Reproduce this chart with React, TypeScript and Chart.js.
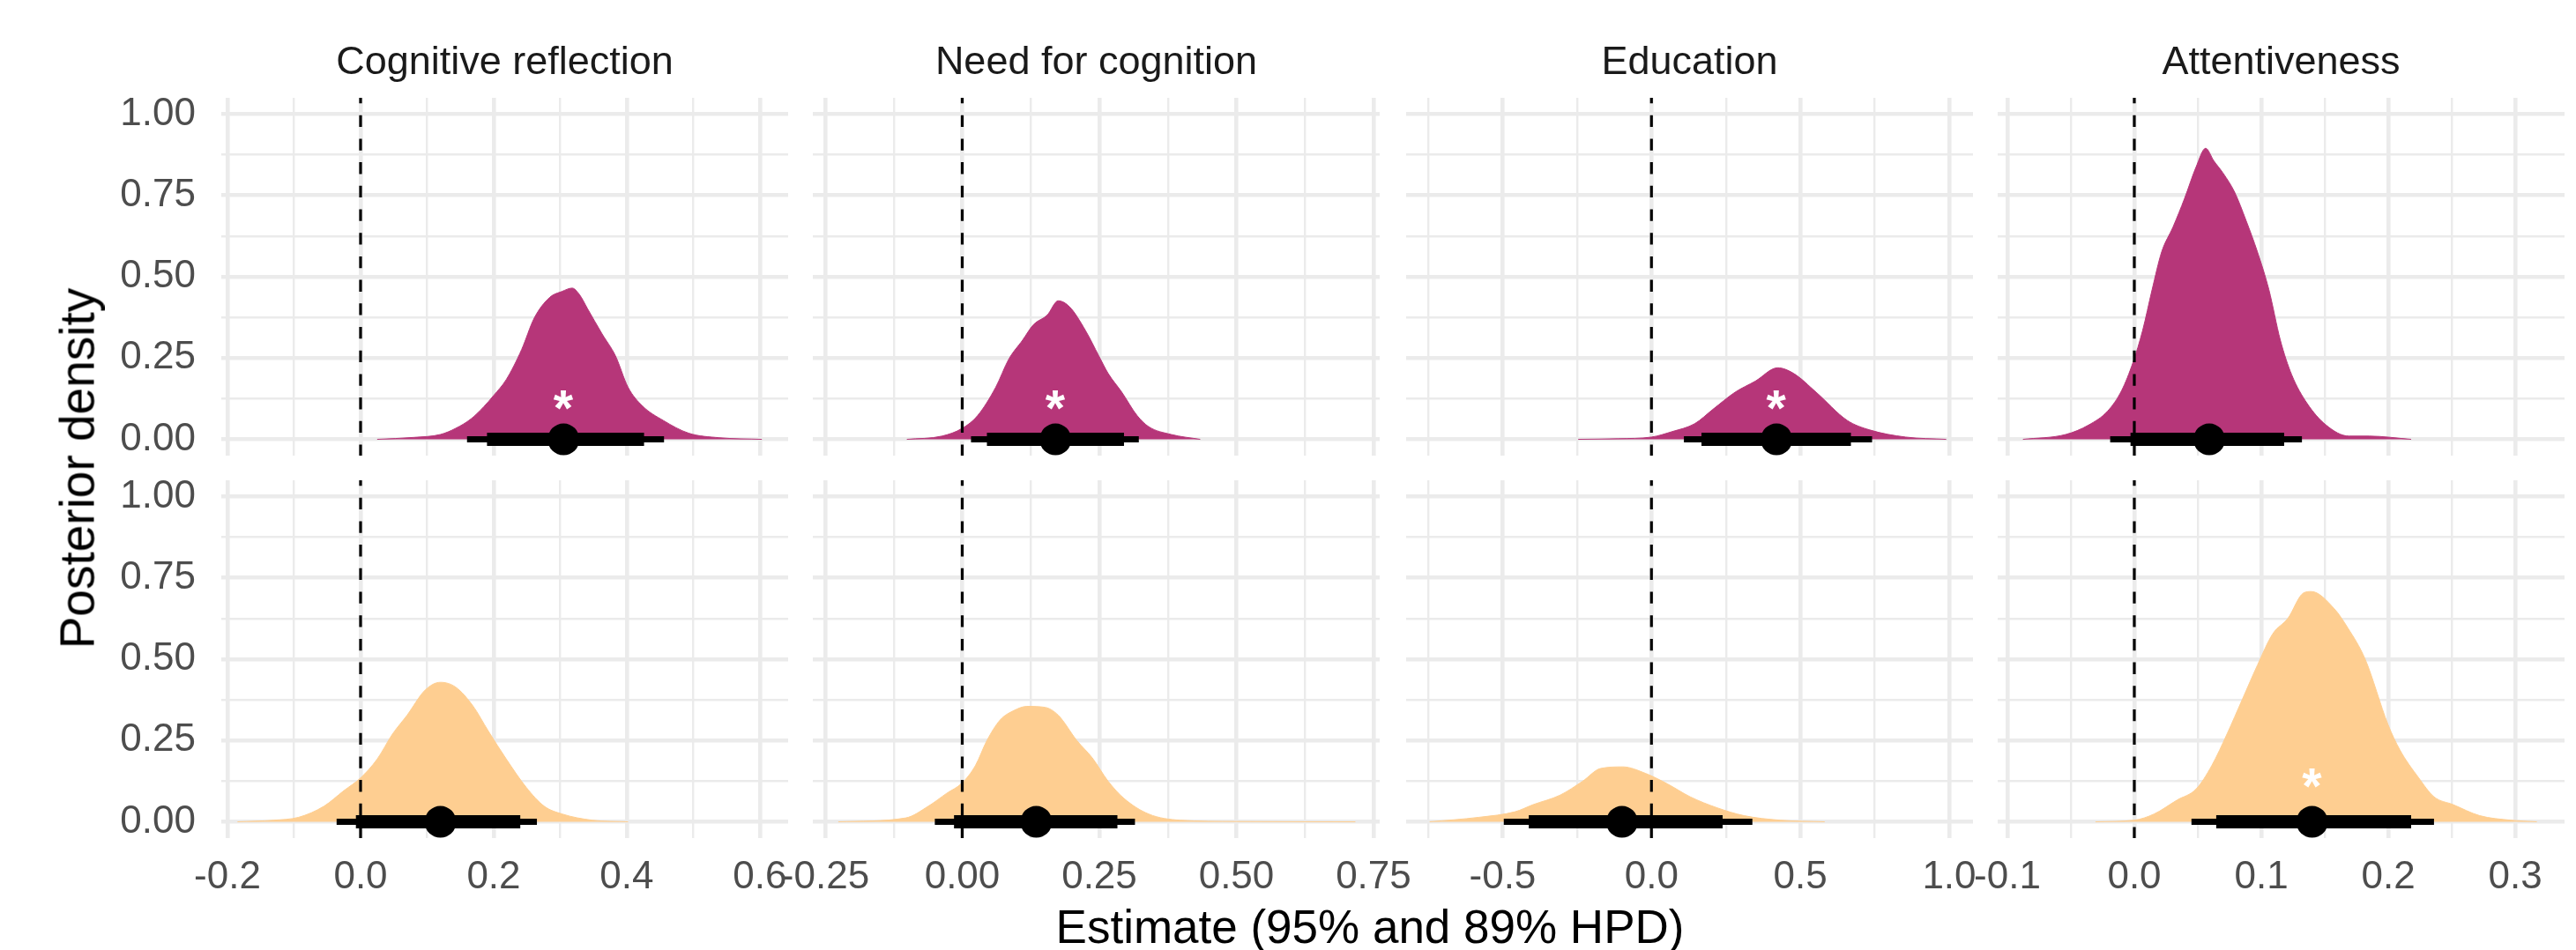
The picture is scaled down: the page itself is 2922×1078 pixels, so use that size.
import React, { useEffect, useRef } from 'react';
import { Chart, registerables } from 'chart.js';

Chart.register(...registerables);

// ---------- data ----------
const facetNames = ['Cognitive reflection', 'Need for cognition', 'Education', 'Attentiveness'];

// posterior density outlines [estimate, density]
const cogReflTop = [[0.025, 0], [0.08, 0.006], [0.12, 0.015], [0.143, 0.034], [0.166, 0.063], [0.185, 0.1], [0.2, 0.135], [0.219, 0.184], [0.242, 0.276], [0.261, 0.373], [0.284, 0.436], [0.303, 0.455], [0.318, 0.465], [0.329, 0.445], [0.341, 0.402], [0.363, 0.324], [0.383, 0.257], [0.402, 0.16], [0.424, 0.102], [0.455, 0.058], [0.493, 0.019], [0.539, 0.005], [0.603, 0]];
const needCogTop = [[-0.101, 0], [-0.037, 0.01], [0.0, 0.034], [0.028, 0.073], [0.061, 0.16], [0.085, 0.247], [0.11, 0.305], [0.13, 0.353], [0.155, 0.382], [0.175, 0.426], [0.196, 0.407], [0.225, 0.334], [0.249, 0.257], [0.266, 0.203], [0.291, 0.145], [0.319, 0.073], [0.34, 0.039], [0.381, 0.015], [0.434, 0]];
const educTop = [[-0.246, 0], [-0.111, 0.002], [0.0, 0.007], [0.07, 0.024], [0.145, 0.048], [0.206, 0.092], [0.281, 0.145], [0.349, 0.179], [0.424, 0.22], [0.477, 0.203], [0.553, 0.145], [0.658, 0.058], [0.733, 0.029], [0.854, 0.007], [0.99, 0]];
const attentTop = [[-0.0877, 0], [-0.054, 0.015], [-0.036, 0.044], [-0.021, 0.087], [-0.01, 0.15], [-0.001, 0.237], [0.0065, 0.334], [0.014, 0.46], [0.0215, 0.576], [0.0305, 0.653], [0.0396, 0.741], [0.0486, 0.837], [0.0562, 0.895], [0.0625, 0.857], [0.07, 0.818], [0.079, 0.76], [0.088, 0.673], [0.097, 0.576], [0.106, 0.46], [0.115, 0.305], [0.124, 0.198], [0.136, 0.111], [0.151, 0.044], [0.169, 0.01], [0.185, 0.01], [0.218, 0]];

const cogReflBottom = [[-0.185, 0], [-0.13, 0.005], [-0.093, 0.014], [-0.055, 0.048], [-0.025, 0.096], [0.0, 0.135], [0.025, 0.193], [0.048, 0.27], [0.07, 0.328], [0.097, 0.405], [0.12, 0.429], [0.143, 0.414], [0.169, 0.356], [0.192, 0.279], [0.219, 0.193], [0.249, 0.106], [0.276, 0.048], [0.303, 0.024], [0.348, 0.005], [0.402, 0]];
const needCogBottom = [[-0.226, 0], [-0.103, 0.012], [-0.062, 0.048], [-0.029, 0.087], [0.0, 0.12], [0.024, 0.173], [0.045, 0.25], [0.069, 0.313], [0.094, 0.342], [0.118, 0.355], [0.151, 0.352], [0.175, 0.328], [0.209, 0.25], [0.237, 0.197], [0.266, 0.125], [0.295, 0.072], [0.34, 0.024], [0.397, 0.005], [0.5, 0.001], [0.717, 0]];
const educBottom = [[-0.745, 0], [-0.579, 0.014], [-0.458, 0.031], [-0.397, 0.053], [-0.307, 0.082], [-0.231, 0.125], [-0.171, 0.164], [-0.096, 0.169], [-0.02, 0.149], [0.055, 0.116], [0.13, 0.077], [0.221, 0.043], [0.311, 0.019], [0.432, 0.005], [0.582, 0]];
const attentBottom = [[-0.0306, 0], [0.0, 0.005], [0.0155, 0.024], [0.0337, 0.067], [0.0487, 0.101], [0.061, 0.173], [0.073, 0.27], [0.085, 0.376], [0.097, 0.482], [0.109, 0.578], [0.121, 0.626], [0.133, 0.703], [0.1394, 0.708], [0.1575, 0.655], [0.168, 0.597], [0.1817, 0.501], [0.1998, 0.299], [0.209, 0.222], [0.224, 0.135], [0.236, 0.077], [0.251, 0.053], [0.272, 0.019], [0.2965, 0.005], [0.317, 0]];

// point estimates and HPD intervals (per facet)
const topEstimate = [0.305, 0.170, 0.420, 0.059];
const topLo95 = [0.160, 0.016, 0.109, -0.019];
const topHi95 = [0.456, 0.322, 0.741, 0.132];
const topLo89 = [0.190, 0.045, 0.168, -0.003];
const topHi89 = [0.426, 0.295, 0.670, 0.118];
const topStar = [true, true, true, false];

const bottomEstimate = [0.120, 0.135, -0.099, 0.140];
const bottomLo95 = [-0.036, -0.050, -0.496, 0.045];
const bottomHi95 = [0.265, 0.315, 0.339, 0.236];
const bottomLo89 = [-0.007, -0.015, -0.412, 0.0645];
const bottomHi89 = [0.240, 0.283, 0.239, 0.218];
const bottomStar = [false, false, false, true];

const starHeight = [0.12, 0.134];

// axes
const xMin = [-0.2093, -0.2725, -0.824, -0.1076];
const xMax = [0.6425, 0.7613, 1.08, 0.3388];
const xMajorTicks = [[-0.2, 0, 0.2, 0.4, 0.6], [-0.25, 0, 0.25, 0.5, 0.75], [-0.5, 0, 0.5, 1.0], [-0.1, 0, 0.1, 0.2, 0.3]];
const xMinorTicks = [[-0.1, 0.1, 0.3, 0.5], [-0.125, 0.125, 0.375, 0.625], [-0.75, -0.25, 0.25, 0.75], [-0.05, 0.05, 0.15, 0.25]];
const xDecimals = [1, 2, 1, 1];
const yMajorTicks = [0, 0.25, 0.5, 0.75, 1.0];
const yMinorTicks = [0.125, 0.375, 0.625, 0.875];
const yMin = -0.05;
const yMax = 1.05;

const rowColors = ['#B63679', '#FECE91'];

// ---------- layout ----------
const panelLeft = [251, 922, 1595, 2266];
const rowTop = [111, 545];
const panelW = 643;
const panelH = 406;
const padL = 100, padR = 100, padT = 80, padB = 80;
const yAxisW = 170;
const xAxisH = 90;
const FONT = "'Liberation Sans', Arial, Helvetica, sans-serif";
const GRID = '#EBEBEB';

const near = (a: number, list: number[]) => list.some((v) => Math.abs(v - a) < 1e-9);

const starPlugin = {
  id: 'starMark',
  afterDatasetsDraw(chart: any, _args: any, opts: any) {
    if (!opts || !opts.show) return;
    const { ctx, scales } = chart;
    const px = scales.x.getPixelForValue(opts.x);
    const py = scales.y.getPixelForValue(opts.y);
    ctx.save();
    ctx.font = `bold 60px ${FONT}`;
    const m = ctx.measureText('*');
    const h = m.actualBoundingBoxAscent + m.actualBoundingBoxDescent;
    const size = h > 0 ? (60 * 22) / h : 60;
    ctx.font = `bold ${size}px ${FONT}`;
    const m2 = ctx.measureText('*');
    ctx.textAlign = 'left';
    ctx.textBaseline = 'alphabetic';
    ctx.fillStyle = '#FFFFFF';
    const bx = px - (m2.actualBoundingBoxRight - m2.actualBoundingBoxLeft) / 2;
    const by = py + (m2.actualBoundingBoxAscent - m2.actualBoundingBoxDescent) / 2;
    ctx.fillText('*', bx, by);
    ctx.restore();
  },
};

type PanelSpec = { r: number; c: number };
const panels: PanelSpec[] = [];
for (let r = 0; r < 2; r++) for (let c = 0; c < 4; c++) panels.push({ r, c });

function geom(r: number, c: number) {
  const yw = c === 0 ? yAxisW : 0;
  const xh = r === 1 ? xAxisH : 0;
  return {
    left: panelLeft[c] - padL - yw,
    top: rowTop[r] - padT,
    width: padL + yw + panelW + padR,
    height: padT + panelH + xh + padB,
    yw,
    xh,
  };
}

export default function App() {
  const refs = useRef<(HTMLCanvasElement | null)[]>([]);

  useEffect(() => {
    Chart.defaults.font.family = FONT;
    const charts: Chart[] = [];
    panels.forEach(({ r, c }, i) => {
      const canvas = refs.current[i];
      if (!canvas) return;
      const g = geom(r, c);
      const dens = r === 0 ? [cogReflTop, needCogTop, educTop, attentTop][c] : [cogReflBottom, needCogBottom, educBottom, attentBottom][c];
      const est = r === 0 ? topEstimate[c] : bottomEstimate[c];
      const lo95 = r === 0 ? topLo95[c] : bottomLo95[c];
      const hi95 = r === 0 ? topHi95[c] : bottomHi95[c];
      const lo89 = r === 0 ? topLo89[c] : bottomLo89[c];
      const hi89 = r === 0 ? topHi89[c] : bottomHi89[c];
      const star = r === 0 ? topStar[c] : bottomStar[c];
      const color = rowColors[r];
      const xMaj = xMajorTicks[c];
      const xAll = [...xMaj, ...xMinorTicks[c]].sort((a, b) => a - b);
      const yAll = [...yMajorTicks, ...yMinorTicks].sort((a, b) => a - b);

      const chart = new Chart(canvas, {
        type: 'line',
        data: {
          datasets: [
            {
              data: dens.map(([x, y]) => ({ x, y })),
              fill: 'origin',
              backgroundColor: color,
              borderColor: color,
              borderWidth: 1,
              pointRadius: 0,
              cubicInterpolationMode: 'monotone',
              order: 5,
            },
            {
              data: [{ x: 0, y: yMax }, { x: 0, y: yMin }],
              borderColor: '#000000',
              borderWidth: 3.2,
              borderDash: [13.3, 13.4],
              borderDashOffset: 7,
              pointRadius: 0,
              fill: false,
              order: 4,
            },
            {
              data: [{ x: lo95, y: 0 }, { x: hi95, y: 0 }],
              borderColor: '#000000',
              borderWidth: 7,
              borderCapStyle: 'butt',
              pointRadius: 0,
              fill: false,
              order: 3,
            },
            {
              data: [{ x: lo89, y: 0 }, { x: hi89, y: 0 }],
              borderColor: '#000000',
              borderWidth: 15,
              borderCapStyle: 'butt',
              pointRadius: 0,
              fill: false,
              order: 2,
            },
            {
              data: [{ x: est, y: 0 }],
              showLine: false,
              pointRadius: 18,
              pointBackgroundColor: '#000000',
              pointBorderWidth: 0,
              borderColor: '#000000',
              fill: false,
              order: 1,
            },
          ],
        } as any,
        options: {
          animation: false,
          responsive: false,
          maintainAspectRatio: false,
          events: [],
          layout: { padding: { left: padL, right: padR, top: padT, bottom: padB } },
          plugins: {
            legend: { display: false },
            tooltip: { enabled: false },
            starMark: { show: star, x: est, y: starHeight[r] },
          } as any,
          scales: {
            x: {
              type: 'linear',
              min: xMin[c],
              max: xMax[c],
              border: { display: false },
              grid: {
                color: GRID,
                drawTicks: false,
                lineWidth: (ctx: any) => (ctx.tick && near(ctx.tick.value, xMaj) ? 4.6 : 2.4),
              },
              ticks: {
                display: r === 1,
                autoSkip: false,
                maxRotation: 0,
                minRotation: 0,
                padding: 18,
                color: '#4D4D4D',
                font: { size: 44, family: FONT },
                callback: (v: any) => (near(Number(v), xMaj) ? Number(v).toFixed(xDecimals[c]) : ''),
              },
              afterBuildTicks: (scale: any) => {
                scale.ticks = xAll.map((v) => ({ value: v }));
              },
              afterFit: (scale: any) => {
                scale.height = g.xh;
              },
            },
            y: {
              type: 'linear',
              min: yMin,
              max: yMax,
              border: { display: false },
              grid: {
                color: GRID,
                drawTicks: false,
                lineWidth: (ctx: any) => (ctx.tick && near(ctx.tick.value, yMajorTicks) ? 4.6 : 2.4),
              },
              ticks: {
                display: c === 0,
                autoSkip: false,
                padding: 29,
                color: '#4D4D4D',
                font: { size: 44, family: FONT },
                callback: (v: any) => (near(Number(v), yMajorTicks) ? Number(v).toFixed(2) : ''),
              },
              afterBuildTicks: (scale: any) => {
                scale.ticks = yAll.map((v) => ({ value: v }));
              },
              afterFit: (scale: any) => {
                scale.width = g.yw;
              },
            },
          },
        } as any,
        plugins: [starPlugin as any],
      });
      charts.push(chart);
    });
    return () => {
      charts.forEach((ch) => ch.destroy());
    };
  }, []);

  return (
    <div
      style={{
        position: 'fixed',
        left: 0,
        top: 0,
        width: 2922,
        height: 1078,
        background: '#FFFFFF',
        overflow: 'hidden',
        fontFamily: FONT,
      }}
    >
      {panels.map(({ r, c }, i) => {
        const g = geom(r, c);
        return (
          <canvas
            key={i}
            ref={(el) => {
              refs.current[i] = el;
            }}
            width={g.width}
            height={g.height}
            style={{ position: 'absolute', left: g.left, top: g.top, width: g.width, height: g.height, display: 'block' }}
          />
        );
      })}
      {facetNames.map((name, c) => (
        <div
          key={name}
          style={{
            position: 'absolute',
            left: panelLeft[c],
            top: 46,
            width: panelW,
            textAlign: 'center',
            fontSize: 45,
            lineHeight: '45px',
            color: '#1A1A1A',
            whiteSpace: 'nowrap',
          }}
        >
          {name}
        </div>
      ))}
      <div
        style={{
          position: 'absolute',
          left: 1554 - 1000,
          top: 1025,
          width: 2000,
          textAlign: 'center',
          fontSize: 53,
          lineHeight: '53px',
          color: '#000000',
          whiteSpace: 'nowrap',
        }}
      >
        Estimate (95% and 89% HPD)
      </div>
      <div
        style={{
          position: 'absolute',
          left: 88 - 400,
          top: 531 - 27.5,
          width: 800,
          height: 55,
          textAlign: 'center',
          fontSize: 55,
          lineHeight: '55px',
          color: '#000000',
          whiteSpace: 'nowrap',
          transform: 'rotate(-90deg)',
          transformOrigin: '50% 50%',
        }}
      >
        Posterior density
      </div>
    </div>
  );
}
